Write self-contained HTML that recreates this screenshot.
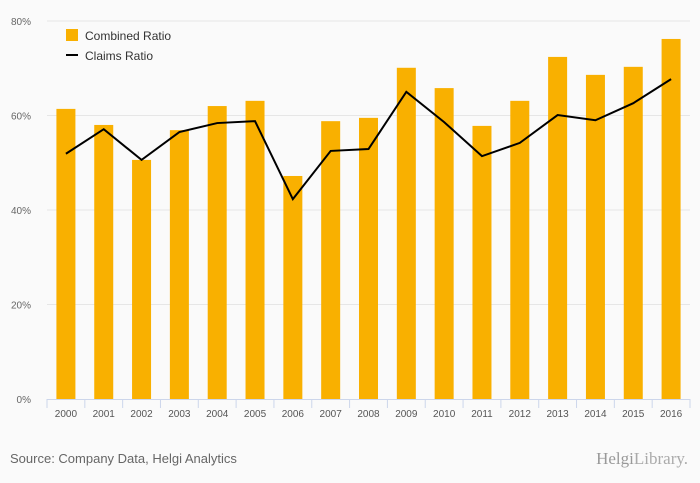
<!DOCTYPE html>
<html><head><meta charset="utf-8"><style>
body{margin:0;background:#fafafa;}
svg{display:block;font-family:"Liberation Sans",sans-serif;}
</style></head><body>
<svg id="chart" width="700" height="483">
<rect width="700" height="483" fill="#fafafa"/>
<g id="grid"></g><g id="bars"></g><g id="line"></g><g id="axes"></g>
<g>
<rect x="66" y="29" width="12" height="12" fill="#f9b000"/>
<text x="85" y="40" font-size="12" fill="#333">Combined Ratio</text>
<line x1="66" y1="55" x2="78" y2="55" stroke="#000" stroke-width="2"/>
<text x="85" y="60" font-size="12" fill="#333">Claims Ratio</text>
</g>
<text x="10" y="463" font-size="13" fill="#666">Source: Company Data, Helgi Analytics</text>
<text x="688" y="464" font-size="17" fill="#aaa" text-anchor="end" font-family="Liberation Serif,serif"><tspan fill="#999">Helgi</tspan>Library.</text>
</svg>
<script>
const categories=["2000","2001","2002","2003","2004","2005","2006","2007","2008","2009","2010","2011","2012","2013","2014","2015","2016"];
const combinedRatio=[61.4,58.0,50.6,56.9,62.0,63.1,47.2,58.8,59.5,70.1,65.8,57.8,63.1,72.4,68.6,70.3,76.2];
const claimsRatio=[51.9,57.1,50.6,56.5,58.4,58.8,42.3,52.5,52.9,65.0,58.6,51.4,54.2,60.1,59.0,62.6,67.7];
const yTicks=[0,20,40,60,80];
const NS="http://www.w3.org/2000/svg";
const x0=47,x1=690,y0=399,y80=21;
const step=(x1-x0)/categories.length;
const xC=i=>x0+step*(i+0.5);
const y=v=>y0-(v/80)*(y0-y80);
function mk(t,a,p){const e=document.createElementNS(NS,t);for(const k in a)e.setAttribute(k,a[k]);p.appendChild(e);return e;}
const grid=document.getElementById('grid'),bars=document.getElementById('bars'),line=document.getElementById('line'),axes=document.getElementById('axes');
yTicks.forEach(v=>{
 if(v>0){const g=mk('line',{x1:x0,x2:x1,y1:y(v),y2:y(v),stroke:'#e6e6e6','stroke-width':1},grid);
 
 }
 const t=mk('text',{x:31,y:y(v)+4,'font-size':10,fill:'#666','text-anchor':'end'},axes);t.textContent=v+'%';
 
 
});
const ax=mk('line',{x1:x0,x2:x1,y1:y0+0.5,y2:y0+0.5,stroke:'#ccd6eb','stroke-width':1},axes);


for(let i=0;i<=categories.length;i++){const tk=mk('line',{x1:x0+step*i,x2:x0+step*i,y1:y0,y2:y0+9,stroke:'#ccd6eb'},axes);
 
 }
categories.forEach((c,i)=>{
 const b=mk('rect',{x:xC(i)-9.5,y:y(combinedRatio[i]),width:19,height:y0-y(combinedRatio[i]),fill:'#f9b000'},bars);
 
 
 const t=mk('text',{x:xC(i),y:417,'font-size':10,fill:'#555','text-anchor':'middle'},axes);t.textContent=c;
 
 
});
const pl=mk('polyline',{points:claimsRatio.map((v,i)=>xC(i)+','+y(v)).join(' '),fill:'none',stroke:'#000','stroke-width':2},line);


</script>
</body></html>
